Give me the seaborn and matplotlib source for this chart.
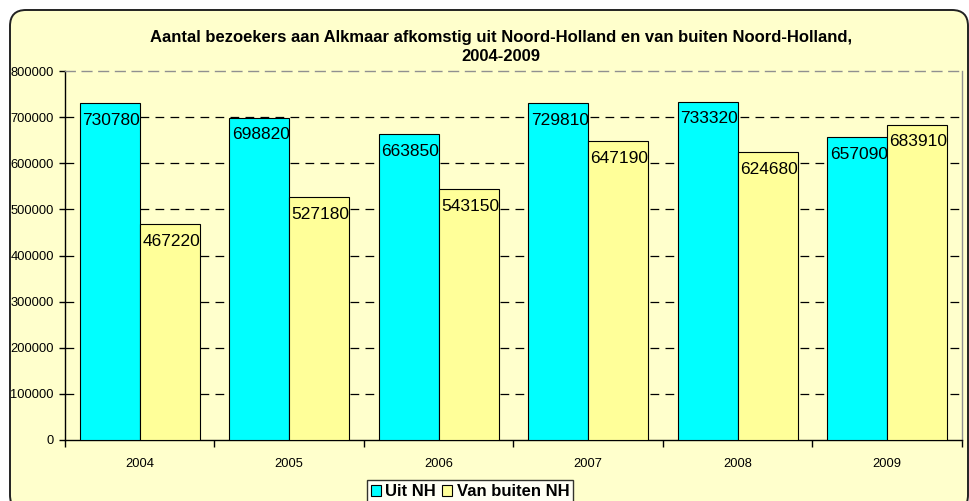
import matplotlib
matplotlib.use("Agg")
import matplotlib.pyplot as plt
from matplotlib.patches import FancyBboxPatch
import seaborn as sns
import pandas as pd

# data
years = ["2004", "2005", "2006", "2007", "2008", "2009"]
uit_nh = [730780, 698820, 663850, 729810, 733320, 657090]
buiten_nh = [467220, 527180, 543150, 647190, 624680, 683910]
series = ["Uit NH", "Van buiten NH"]
yticks = [0, 100000, 200000, 300000, 400000, 500000, 600000, 700000, 800000]
title = ("Aantal bezoekers aan Alkmaar afkomstig uit Noord-Holland en van buiten Noord-Holland,\n"
         "2004-2009")

sns.set_theme(style="white")
plt.rcParams["font.family"] = ["Liberation Sans", "DejaVu Sans"]
plt.rcParams["text.color"] = "black"
plt.rcParams["xtick.color"] = "black"
plt.rcParams["ytick.color"] = "black"
plt.rcParams["axes.labelcolor"] = "black"

df = pd.DataFrame({
    "jaar": years * 2,
    "bezoekers": uit_nh + buiten_nh,
    "herkomst": [series[0]] * len(years) + [series[1]] * len(years),
})

bg = "#FFFFCC"
fig = plt.figure(figsize=(9.7, 5.01), dpi=100)
fig.patch.set_facecolor("white")

# rounded chart-area frame
frame = FancyBboxPatch((0.1, -0.1), 9.58, 5.01,
                       boxstyle="round,pad=0,rounding_size=0.16",
                       transform=fig.dpi_scale_trans, facecolor=bg,
                       edgecolor="#222222", linewidth=1.4, zorder=-10)
fig.patches.append(frame)

ax = fig.add_axes([65 / 970, 61 / 501, (962 - 65) / 970, (440 - 71) / 501])
ax.set_facecolor("none")
ax.set_zorder(2)

sns.barplot(data=df, x="jaar", y="bezoekers", hue="herkomst", order=years,
            hue_order=series, palette=["#00FFFF", "#FFFF99"], width=0.8,
            edgecolor="black", linewidth=0.8, saturation=1, legend=True,
            ax=ax, zorder=3)

ax.set_xlim(-0.5, len(years) - 0.5)
ax.set_ylim(0, 800000)
ax.set_yticks(yticks)
ax.set_yticklabels([str(v) for v in yticks], fontsize=9.3)
ax.set_xlabel("")
ax.set_ylabel("")

for v in yticks[1:-1]:
    ax.axhline(v, color="black", linewidth=0.9, linestyle=(0, (7, 5)), zorder=1)

for side in ["left", "bottom"]:
    ax.spines[side].set_color("black")
    ax.spines[side].set_linewidth(1.0)
ax.spines["right"].set_color("#909090")
ax.spines["right"].set_linewidth(1.0)
ax.spines["top"].set_color("#909090")
ax.spines["top"].set_linestyle((0, (7, 5)))
ax.spines["top"].set_linewidth(1.0)

ax.tick_params(axis="y", direction="out", length=4, width=1, color="black", pad=4, left=True)
ax.tick_params(axis="x", which="major", length=0, pad=13, labelsize=9.3)
ax.set_xticks([i - 0.5 for i in range(len(years) + 1)], minor=True)
ax.tick_params(axis="x", which="minor", direction="out", length=5, width=1,
               color="black", bottom=True)

# value labels inside the top of each bar
for cont in ax.containers:
    for bar in cont:
        h = bar.get_height()
        ax.annotate(f"{int(round(h))}", (bar.get_x() + bar.get_width() / 2, h),
                    xytext=(1, -7), textcoords="offset points", ha="center",
                    va="top", fontsize=12.5, zorder=5)

fig.text(501 / 970, 1 - 47 / 501, title, ha="center", va="center",
         fontsize=12, fontweight="bold", linespacing=1.3)

handles, labels = ax.get_legend_handles_labels()
ax.get_legend().remove()
leg = fig.legend(handles, labels, loc="upper center", ncol=2,
                 bbox_to_anchor=(470 / 970, 1 - 480 / 501),
                 frameon=True, fancybox=False, edgecolor="black",
                 prop={"weight": "bold", "size": 12},
                 handlelength=0.6, handleheight=0.6, handletextpad=0.25,
                 columnspacing=0.4, borderpad=0.25, borderaxespad=0)
leg.get_frame().set_linewidth(1.0)
leg.get_frame().set_facecolor("white")
for p in leg.get_patches():
    p.set_edgecolor("black")

fig.savefig("out.png", dpi=100)
